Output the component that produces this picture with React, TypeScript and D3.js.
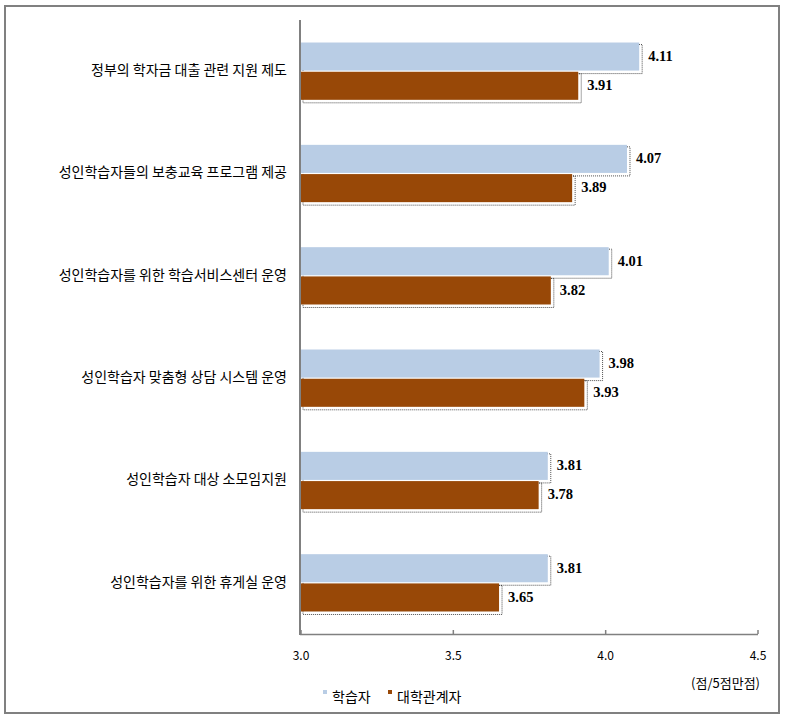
import React from "react";
import * as d3 from "d3";

const categories = [
  "정부의 학자금 대출 관련 지원 제도",
  "성인학습자들의 보충교육 프로그램 제공",
  "성인학습자를 위한 학습서비스센터 운영",
  "성인학습자 맞춤형 상담 시스템 운영",
  "성인학습자 대상 소모임지원",
  "성인학습자를 위한 휴게실 운영",
];
const seriesNames = ["학습자", "대학관계자"];
const learners = [4.11, 4.07, 4.01, 3.98, 3.81, 3.81];
const staff = [3.91, 3.89, 3.82, 3.93, 3.78, 3.65];
const ticks = [3.0, 3.5, 4.0, 4.5];
const colors = ["#b9cde5", "#984807"];

export default function App() {
  const W = 785, H = 719;
  const x = d3.scaleLinear().domain([3.0, 4.5]).range([301, 758]);
  const y = d3.scaleBand().domain(categories).range([20, 634]).paddingInner(0.44).paddingOuter(0.22);
  const inner = d3.scaleBand().domain(seriesNames).range([0, y.bandwidth()]).paddingInner(0.04);
  const series = [learners, staff];
  const font = "'Noto Sans CJK KR', 'Noto Sans', sans-serif";
  return (
    <svg width={W} height={H} style={{ position: "absolute", left: 0, top: 0 }}>
      <rect x={0} y={0} width={W} height={H} fill="#fff" />
      <rect x={5} y={6} width={774} height={707} fill="none" stroke="#808080" strokeWidth={2} />
      {categories.map((c, i) => (
        <text key={c} x={287} y={y(c)! + y.bandwidth() / 2} textAnchor="end" dominantBaseline="middle"
          fontFamily={font} fontSize={14} fill="#000">{c}</text>
      ))}
      {categories.map((c, i) =>
        series.map((s, k) => {
          const by = y(c)! + inner(seriesNames[k])!;
          const bh = inner.bandwidth();
          const bx = x(3.0);
          const bw = x(s[i]) - bx;
          return (
            <g key={c + k}>
              <rect x={bx + 2} y={by + 2} width={bw + 1} height={bh + 1} fill="none" stroke="#222"
                strokeWidth={0.8} strokeDasharray="1,1" />
              <rect x={bx} y={by} width={bw} height={bh} fill={colors[k]} />
              <text x={x(s[i]) + 9} y={by + bh / 2 + 1} dominantBaseline="middle"
                fontFamily="'Liberation Serif', 'DejaVu Serif', serif" fontWeight="bold" fontSize={14.5} fill="#000">
                {s[i].toFixed(2)}
              </text>
            </g>
          );
        })
      )}
      <line x1={300} x2={300} y1={20} y2={635} stroke="#808080" strokeWidth={2} />
      <line x1={300} x2={x(4.5)} y1={634.5} y2={634.5} stroke="#808080" strokeWidth={1.5} />
      {ticks.map((t) => (
        <g key={t}>
          <line x1={x(t)} x2={x(t)} y1={634} y2={630} stroke="#808080" strokeWidth={1.5} />
          <text x={x(t)} y={660} textAnchor="middle" fontFamily={font} fontSize={12} fill="#000">
            {t.toFixed(1)}
          </text>
        </g>
      ))}
      <text x={760} y={688} textAnchor="end" fontFamily={font} fontSize={13} fill="#000">(점/5점만점)</text>
      {seriesNames.map((n, k) => {
        const lx = k === 0 ? 323 : 388;
        return (
          <g key={n}>
            <rect x={lx} y={690} width={4} height={4} fill={colors[k]} />
            <text x={lx + 9} y={702} fontFamily={font} fontSize={14} fill="#000">{n}</text>
          </g>
        );
      })}
    </svg>
  );
}
